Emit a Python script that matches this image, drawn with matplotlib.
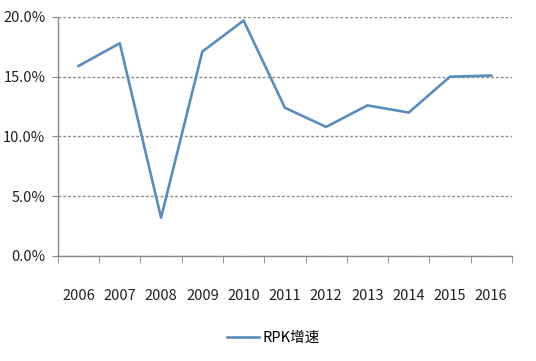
import numpy as np
import matplotlib.pyplot as plt
from matplotlib.ticker import FuncFormatter, MultipleLocator

plt.rcParams['font.family'] = ['Noto Sans CJK SC', 'DejaVu Sans']

years = ['2006', '2007', '2008', '2009', '2010', '2011',
         '2012', '2013', '2014', '2015', '2016']
rpk_growth = [15.9, 17.8, 3.2, 17.1, 19.7, 12.4, 10.8, 12.6, 12.0, 15.0, 15.1]

fig = plt.figure(figsize=(5.36, 3.61), dpi=100)
ax = fig.add_axes([0.108, 0.291, 0.847, 0.662])

x = np.arange(len(years))
ax.plot(x, rpk_growth, color='#5b8cba', lw=1.9, label='RPK增速')

ax.set_xlim(-0.5, len(years) - 0.5)
ax.set_ylim(0, 20)
ax.yaxis.set_major_locator(MultipleLocator(5))
ax.yaxis.set_major_formatter(FuncFormatter(lambda v, p: f'{v:.1f}%'))
ax.grid(axis='y', color='#8c8c8c', ls=(0, (2, 1.5)), lw=1.0)
ax.set_axisbelow(True)

ax.set_xticks(x)
ax.set_xticklabels(years)
ax.set_xticks(np.arange(-0.5, len(years)), minor=True)
ax.tick_params(axis='x', which='major', length=0, pad=24, labelsize=10.5, colors='#222222')
ax.tick_params(axis='x', which='minor', length=5, color='#888888', direction='out')
ax.tick_params(axis='y', length=4, color='#888888', pad=5, labelsize=10.5, labelcolor='#222222')

for s in ['top', 'right']:
    ax.spines[s].set_visible(False)
for s in ['left', 'bottom']:
    ax.spines[s].set_color('#888888')
    ax.spines[s].set_linewidth(1.0)

fig.legend(loc='center', bbox_to_anchor=(0.51, 0.064), frameon=False,
           fontsize=10.5, handlelength=2.2, handletextpad=0.2)

fig.savefig('out.png', dpi=100)
